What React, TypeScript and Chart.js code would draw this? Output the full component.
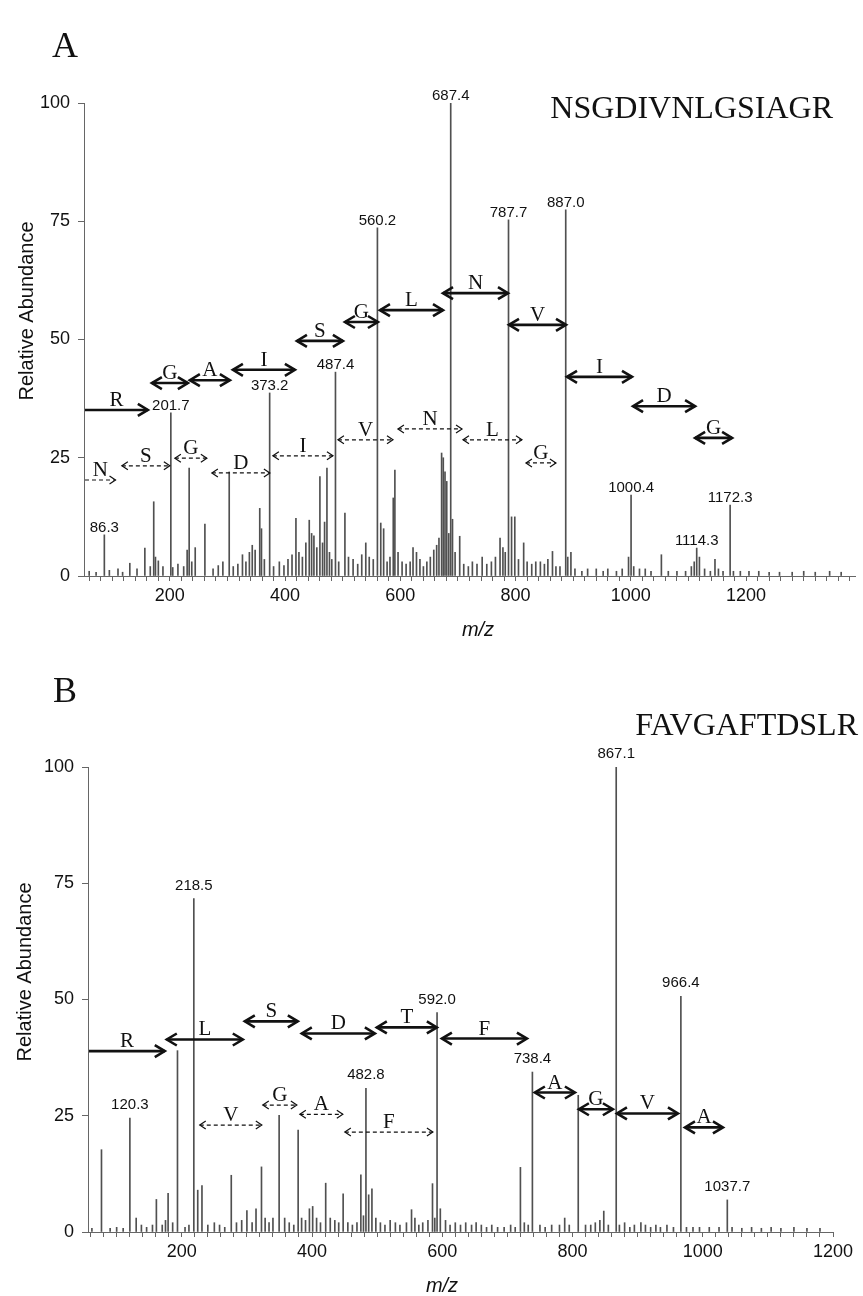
import React, { useEffect, useRef } from "react";
import { Chart, registerables } from "chart.js";

Chart.register(...registerables);

// ---------------- Panel A: NSGDIVNLGSIAGR ----------------
const sequenceA = "NSGDIVNLGSIAGR";
const labeledMzA = [86.3, 201.7, 373.2, 487.4, 560.2, 687.4, 787.7, 887.0, 1000.4, 1114.3, 1172.3];
const labeledIntA = [8.7, 34.5, 38.7, 43.1, 73.6, 100, 75.3, 77.4, 17.1, 5.9, 15.0];
const minorPeaksA: [number, number][] = [
  [60, 1.0], [72, 0.8], [95, 1.2], [110, 1.5], [118, 0.8], [130.5, 2.7], [143, 1.5], [156.6, 5.9],
  [166, 2.0], [172, 15.7], [175, 4.0], [180, 3.2], [188, 2.0], [205, 1.8], [214, 2.5], [224, 2.0],
  [230, 5.5], [233.5, 22.8], [238, 3.0], [244, 6.0], [260.8, 11.0], [275, 1.5], [284, 2.2], [292, 3.0],
  [303, 22.0], [310, 2.0], [318, 2.5], [326, 4.5], [332, 3.0], [338, 5.0], [343, 6.5], [348, 5.5],
  [356, 14.3], [359, 10.0], [364, 3.5], [380, 2.0], [390, 3.0], [398, 2.2], [405, 3.5], [412, 4.5],
  [418.8, 12.2], [424, 5.0], [430, 4.0], [436, 7.0], [441.9, 11.8], [446, 9.0], [450, 8.5], [455, 6.0],
  [460.4, 21.0], [465, 7.0], [468.5, 11.4], [472.6, 22.8], [477, 5.0], [481, 3.5], [493, 3.0], [503.8, 13.3],
  [510, 4.0], [518, 3.5], [526, 2.5], [533, 4.5], [540, 7.0], [546, 4.0], [553, 3.5], [566, 11.2],
  [571, 10.0], [577, 3.0], [582, 4.0], [587.7, 16.5], [590.5, 22.4], [596, 5.0], [603, 3.0], [610, 2.5],
  [617, 3.0], [622, 6.0], [628, 5.0], [634, 3.5], [640, 2.0], [646, 3.0], [652, 4.0], [658, 5.5],
  [663, 6.5], [667, 8.0], [671.6, 26.0], [674.5, 25.0], [677.5, 22.0], [680.5, 20.0], [684, 9.0], [690.5, 12.0],
  [695, 5.0], [703, 8.4], [710, 2.5], [718, 2.0], [725, 3.0], [733, 2.5], [742, 4.0], [750, 2.5],
  [758, 3.0], [765, 4.0], [773, 8.0], [778, 6.0], [782, 5.0], [793, 12.5], [798.6, 12.5], [805, 3.5],
  [814, 7.0], [820, 3.0], [828, 2.5], [835, 3.0], [843, 3.0], [850, 2.5], [856, 3.5], [864, 5.2],
  [870, 2.0], [877, 2.0], [890.5, 4.0], [896, 5.0], [903, 1.5], [915, 1.0], [925, 1.5], [940, 1.5],
  [952, 1.0], [960, 1.5], [975, 1.0], [985, 1.5], [996, 4.0], [1005, 2.0], [1015, 1.5], [1025, 1.5],
  [1035, 1.0], [1053, 4.5], [1065, 1.0], [1080, 1.0], [1095, 1.0], [1105, 2.0], [1110, 3.0], [1119, 4.0],
  [1128, 1.5], [1138, 1.0], [1146, 3.5], [1152, 1.5], [1160, 1.0], [1178, 1.0], [1190, 1.0], [1205, 1.0],
  [1222, 1.0], [1240, 0.8], [1258, 0.8], [1280, 0.8], [1300, 1.0], [1320, 0.8], [1345, 1.0], [1365, 0.8],
];
// solid ladder (null "from" = starts at the axis)
const solidLabelsA = ["R", "G", "A", "I", "S", "G", "L", "N", "V", "I", "D", "G"];
const solidFromA = [null, 168.8, 234.7, 309.4, 420.5, 503.8, 564.6, 674, 788.5, 889.2, 1003.8, 1111.5];
const solidToA = [161.8, 231.3, 304.2, 417, 500.3, 561.1, 674, 786.8, 887.5, 1002, 1111.5, 1175.7];
const solidLevelA = [35.1, 40.8, 41.4, 43.6, 49.7, 53.7, 56.2, 59.8, 53.1, 42.1, 35.9, 29.2];
// dashed ladder
const dashLabelsA = ["N", "S", "G", "D", "I", "V", "N", "L", "G"];
const dashFromA = [null, 116.7, 208.7, 272.9, 378.8, 491.7, 595.8, 708.7, 818];
const dashToA = [105.7, 200, 264.2, 373.6, 483, 587.2, 707, 811, 870];
const dashLevelA = [20.3, 23.3, 24.9, 21.8, 25.4, 28.8, 31.1, 28.8, 23.9];
const xRangeA = [51, 1389];

// ---------------- Panel B: FAVGAFTDSLR ----------------
const sequenceB = "FAVGAFTDSLR";
const labeledMzB = [120.3, 218.5, 482.8, 592.0, 738.4, 867.1, 966.4, 1037.7];
const labeledIntB = [24.5, 71.7, 30.9, 47.2, 34.4, 100, 50.7, 6.9];
const minorPeaksB: [number, number][] = [
  [62, 0.8], [76.7, 17.7], [90, 0.8], [100, 1.0], [110, 0.8], [130, 3.0], [138, 1.5], [146, 1.0],
  [155, 1.5], [161, 7.0], [170, 1.5], [175, 2.5], [179, 8.3], [186, 2.0], [193.4, 39.0], [205, 1.0],
  [211, 1.5], [224.5, 9.0], [231, 10.0], [240, 1.5], [250, 2.0], [258, 1.5], [266, 1.0], [276, 12.2],
  [284, 2.0], [292, 2.5], [300, 4.6], [308, 2.0], [314, 5.0], [322.4, 14.0], [328, 3.0], [334, 2.0],
  [340, 3.0], [349.5, 25.1], [358, 3.0], [365, 2.0], [372, 1.5], [378.7, 21.9], [384, 3.0], [390, 2.5],
  [396, 5.0], [401, 5.5], [407, 3.0], [413, 2.0], [421, 10.5], [428, 3.0], [435, 2.5], [441, 2.0],
  [447.8, 8.2], [455, 2.0], [462, 1.5], [469, 2.0], [475, 12.3], [479, 3.5], [487, 8.0], [492, 9.3],
  [498, 3.0], [505, 2.0], [512, 1.5], [520, 2.5], [528, 2.0], [535, 1.5], [545, 2.0], [552.8, 4.8],
  [558, 3.0], [564, 1.5], [570, 2.0], [578, 2.5], [585, 10.4], [588.5, 3.0], [597, 5.0], [605, 2.5],
  [612, 1.5], [620, 2.0], [628, 1.5], [636, 2.0], [645, 1.5], [652, 2.0], [660, 1.5], [668, 1.0],
  [676, 1.5], [685, 1.0], [695, 1.0], [705, 1.5], [712, 1.0], [720, 13.9], [726, 2.0], [732, 1.5],
  [750, 1.5], [758, 1.0], [768, 1.5], [780, 1.5], [788, 3.0], [795, 1.5], [808.8, 29.4], [820, 1.5],
  [828, 1.5], [835, 2.0], [842, 2.5], [848, 4.5], [855, 1.5], [872, 1.5], [880, 2.0], [888, 1.0],
  [895, 1.5], [905, 2.0], [912, 1.5], [920, 1.0], [928, 1.5], [935, 1.0], [945, 1.5], [955, 1.0],
  [975, 1.0], [985, 1.0], [995, 1.0], [1010, 1.0], [1025, 1.0], [1045, 1.0], [1060, 0.8], [1075, 1.0],
  [1090, 0.8], [1105, 1.0], [1120, 0.8], [1140, 1.0], [1160, 0.8], [1180, 0.8],
];
const solidLabelsB = ["R", "L", "S", "D", "T", "F", "A", "G", "V", "A"];
const solidFromB = [null, 177, 296.8, 384.3, 499.5, 599.4, 742.2, 809.8, 868.2, 972.7];
const solidToB = [173.9, 293.7, 378.2, 496.5, 591.7, 730, 803.7, 862, 961.9, 1031];
const solidLevelB = [38.9, 41.4, 45.3, 42.7, 44.0, 41.6, 30.0, 26.4, 25.5, 22.5];
const dashLabelsB = ["V", "G", "A", "F"];
const dashFromB = [227.6, 324.4, 381.3, 450.4];
const dashToB = [322.9, 376.7, 447.3, 585.6];
const dashLevelB = [23.0, 27.3, 25.3, 21.5];
const xRangeB = [56, 1200];

// shared axis tick labels
const xTickLabels = [200, 400, 600, 800, 1000, 1200];
const yTickLabels = [0, 25, 50, 75, 100];
const minorTickStep = 20;

const SANS = '"Liberation Sans", Arial, Helvetica, sans-serif';
const SERIF = '"Liberation Serif", "Times New Roman", serif';

type Ladder = { labels: string[]; from: (number | null)[]; to: number[]; level: number[] };

type PanelCfg = {
  letter: string;
  sequence: string;
  labeledMz: number[];
  labeledInt: number[];
  minor: [number, number][];
  solid: Ladder;
  dashed: Ladder;
  xRange: number[];
  layout: {
    height: number;
    plotBottom: number;
    padTop: number;
    padRight: number;
    yAxisWidth: number;
    labelGap: number;
    letterPos: [number, number];
    seqPos: [number, number];
    yTitlePos: [number, number];
    xTitlePos: [number, number];
  };
};

const panelA: PanelCfg = {
  letter: "A",
  sequence: sequenceA,
  labeledMz: labeledMzA,
  labeledInt: labeledIntA,
  minor: minorPeaksA,
  solid: { labels: solidLabelsA, from: solidFromA, to: solidToA, level: solidLevelA },
  dashed: { labels: dashLabelsA, from: dashFromA, to: dashToA, level: dashLevelA },
  xRange: xRangeA,
  layout: {
    height: 650,
    plotBottom: 576,
    padTop: 103,
    padRight: 8,
    yAxisWidth: 84,
    labelGap: 3,
    letterPos: [65, 48],
    seqPos: [833, 110],
    yTitlePos: [27, 311],
    xTitlePos: [478, 630],
  },
};

const panelB: PanelCfg = {
  letter: "B",
  sequence: sequenceB,
  labeledMz: labeledMzB,
  labeledInt: labeledIntB,
  minor: minorPeaksB,
  solid: { labels: solidLabelsB, from: solidFromB, to: solidToB, level: solidLevelB },
  dashed: { labels: dashLabelsB, from: dashFromB, to: dashToB, level: dashLevelB },
  xRange: xRangeB,
  layout: {
    height: 646,
    plotBottom: 582,
    padTop: 117,
    padRight: 30,
    yAxisWidth: 88,
    labelGap: 9,
    letterPos: [65, 43],
    seqPos: [858, 77],
    yTitlePos: [25, 322],
    xTitlePos: [442, 636],
  },
};

function drawHead(ctx: CanvasRenderingContext2D, x: number, y: number, dir: number, len: number, spread: number) {
  ctx.beginPath();
  ctx.moveTo(x - dir * len, y - spread);
  ctx.lineTo(x, y);
  ctx.lineTo(x - dir * len, y + spread);
  ctx.stroke();
}

function drawLadder(chart: any, ladder: Ladder, dashed: boolean) {
  const ctx: CanvasRenderingContext2D = chart.ctx;
  const xs = chart.scales.x;
  const ys = chart.scales.y;
  const lw = dashed ? 1.2 : 2.6;
  const len = dashed ? 6 : 10;
  const spread = dashed ? 4 : 6;
  ladder.labels.forEach((lab, i) => {
    const fromVal = ladder.from[i];
    const single = fromVal === null;
    const x1 = single ? chart.chartArea.left + 1 : xs.getPixelForValue(fromVal as number);
    const x2 = xs.getPixelForValue(ladder.to[i]);
    const y = ys.getPixelForValue(ladder.level[i]);
    ctx.save();
    ctx.strokeStyle = "#111";
    ctx.lineWidth = lw;
    ctx.lineCap = "butt";
    ctx.lineJoin = "miter";
    ctx.setLineDash(dashed ? [4, 3] : []);
    ctx.beginPath();
    ctx.moveTo(x1, y);
    ctx.lineTo(x2, y);
    ctx.stroke();
    ctx.setLineDash([]);
    drawHead(ctx, x2, y, 1, len, spread);
    if (!single) drawHead(ctx, x1, y, -1, len, spread);
    ctx.fillStyle = "#111";
    ctx.font = `21px ${SERIF}`;
    ctx.textAlign = "center";
    ctx.textBaseline = "alphabetic";
    ctx.fillText(lab, (x1 + x2) / 2, y - 4);
    ctx.restore();
  });
}

function makeDecor(p: PanelCfg) {
  return {
    id: "spectrumDecor",
    afterDraw(chart: any) {
      const ctx: CanvasRenderingContext2D = chart.ctx;
      const xs = chart.scales.x;
      const ys = chart.scales.y;
      const L = p.layout;
      ctx.save();
      // peak m/z labels
      ctx.fillStyle = "#111";
      ctx.font = `15px ${SANS}`;
      ctx.textAlign = "center";
      ctx.textBaseline = "alphabetic";
      p.labeledMz.forEach((mz, i) => {
        const x = xs.getPixelForValue(mz);
        const y = ys.getPixelForValue(p.labeledInt[i]);
        ctx.fillText(mz.toFixed(1), x, y - L.labelGap);
      });
      ctx.restore();

      drawLadder(chart, p.solid, false);
      drawLadder(chart, p.dashed, true);

      ctx.save();
      ctx.fillStyle = "#111";
      // panel letter
      ctx.font = `36px ${SERIF}`;
      ctx.textAlign = "center";
      ctx.textBaseline = "middle";
      ctx.fillText(p.letter, L.letterPos[0], L.letterPos[1]);
      // peptide sequence
      ctx.font = `32px ${SERIF}`;
      ctx.textAlign = "right";
      ctx.fillText(p.sequence, L.seqPos[0], L.seqPos[1]);
      // axis titles
      ctx.font = `italic 20px ${SANS}`;
      ctx.textAlign = "center";
      ctx.fillText("m/z", L.xTitlePos[0], L.xTitlePos[1]);
      ctx.font = `20px ${SANS}`;
      ctx.translate(L.yTitlePos[0], L.yTitlePos[1]);
      ctx.rotate(-Math.PI / 2);
      ctx.fillText("Relative Abundance", 0, 0);
      ctx.restore();
    },
  };
}

function SpectrumPanel({ cfg, top }: { cfg: PanelCfg; top: number }) {
  const ref = useRef<HTMLCanvasElement | null>(null);
  useEffect(() => {
    if (!ref.current) return;
    const L = cfg.layout;
    const points = [
      ...cfg.minor.map(([x, y]) => ({ x, y })),
      ...cfg.labeledMz.map((x, i) => ({ x, y: cfg.labeledInt[i] })),
    ].sort((a, b) => a.x - b.x);
    const [xMin, xMax] = cfg.xRange;
    const chart = new Chart(ref.current, {
      type: "bar",
      data: {
        datasets: [
          {
            data: points as any,
            backgroundColor: "#505050",
            borderWidth: 0,
            barThickness: 1,
            grouped: false,
          } as any,
        ],
      },
      options: {
        animation: false,
        responsive: false,
        maintainAspectRatio: false,
        layout: { padding: { left: 0, right: L.padRight, top: L.padTop, bottom: 0 } },
        plugins: { legend: { display: false }, tooltip: { enabled: false }, title: { display: false } },
        scales: {
          x: {
            type: "linear",
            min: xMin,
            max: xMax,
            offset: false,
            afterFit: (s: any) => {
              s.height = L.height - L.plotBottom;
            },
            afterBuildTicks: (s: any) => {
              const t: { value: number }[] = [];
              for (let v = Math.ceil(xMin / minorTickStep) * minorTickStep; v <= xMax; v += minorTickStep) {
                t.push({ value: v });
              }
              s.ticks = t;
            },
            grid: { display: true, drawOnChartArea: false, drawTicks: true, tickLength: 5, color: "#666", offset: false },
            border: { display: true, color: "#666", width: 1 },
            ticks: {
              autoSkip: false,
              maxRotation: 0,
              minRotation: 0,
              padding: 4,
              color: "#111",
              font: { family: SANS, size: 18 },
              callback: (v: any) => (xTickLabels.includes(Number(v)) ? String(v) : ""),
            },
          },
          y: {
            type: "linear",
            min: 0,
            max: 100,
            afterFit: (s: any) => {
              s.width = L.yAxisWidth;
            },
            afterBuildTicks: (s: any) => {
              s.ticks = yTickLabels.map((v) => ({ value: v }));
            },
            grid: { display: true, drawOnChartArea: false, drawTicks: true, tickLength: 6, color: "#666" },
            border: { display: true, color: "#666", width: 1 },
            ticks: {
              padding: 8,
              color: "#111",
              font: { family: SANS, size: 18 },
            },
          },
        },
      } as any,
      plugins: [makeDecor(cfg)],
    });
    return () => chart.destroy();
  }, [cfg]);
  return (
    <canvas
      ref={ref}
      width={863}
      height={cfg.layout.height}
      style={{ position: "absolute", left: 0, top, width: 863, height: cfg.layout.height, display: "block" }}
    />
  );
}

export default function App() {
  return (
    <div style={{ position: "absolute", left: 0, top: 0, width: 863, height: 1296, background: "#fff" }}>
      <SpectrumPanel cfg={panelA} top={0} />
      <SpectrumPanel cfg={panelB} top={650} />
    </div>
  );
}
